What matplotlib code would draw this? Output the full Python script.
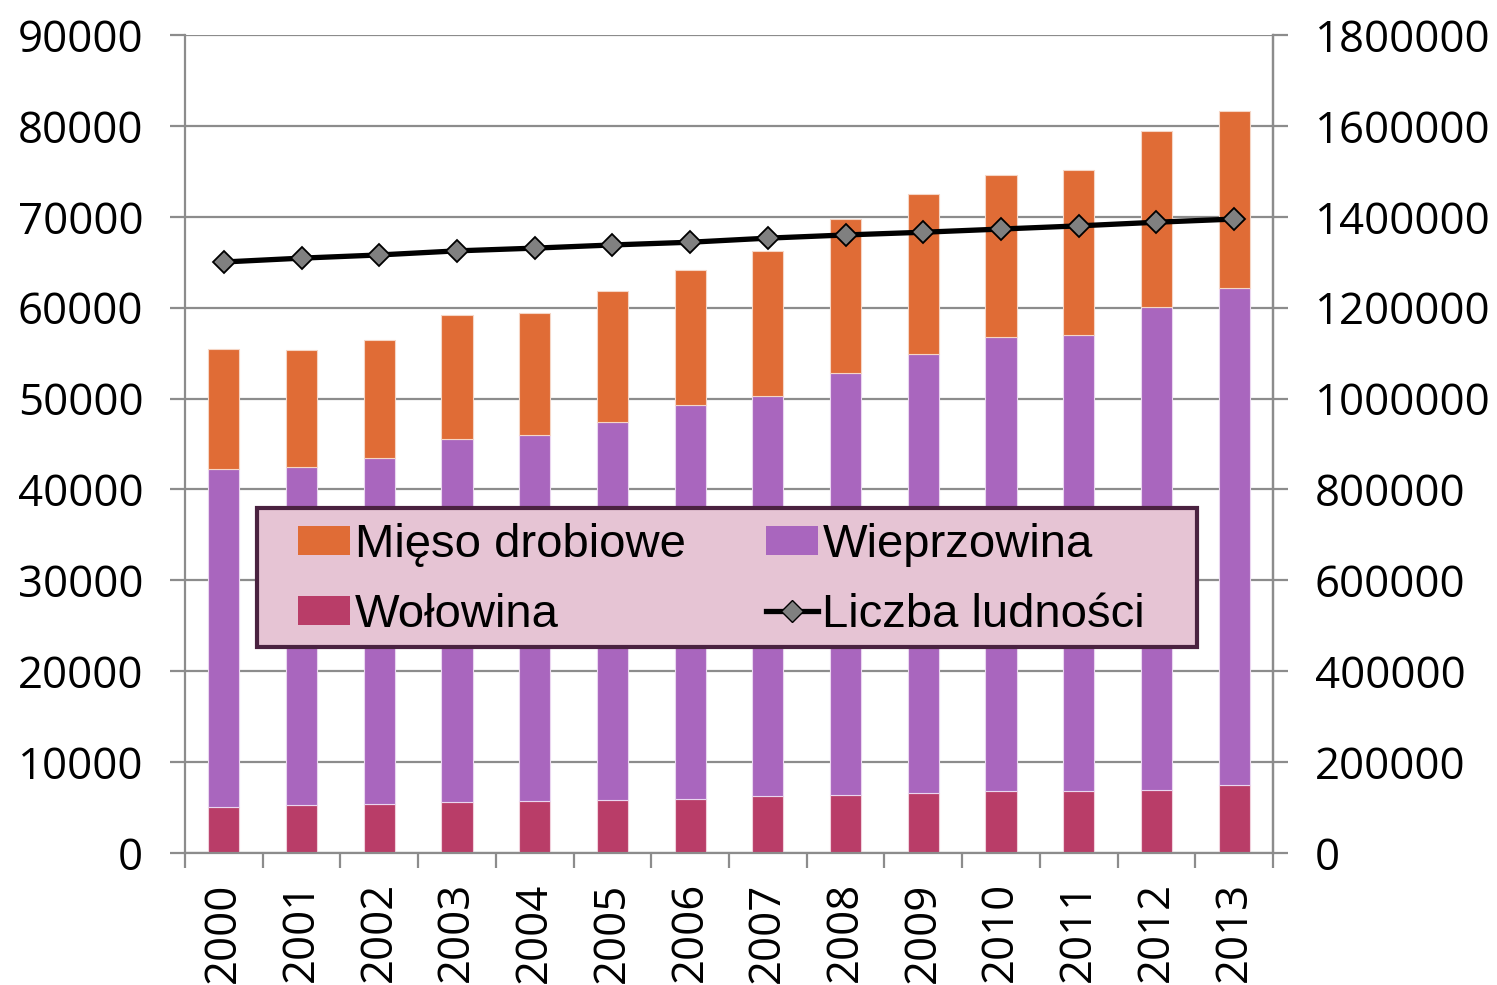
import matplotlib
matplotlib.use("Agg")
import matplotlib.pyplot as plt
import numpy as np
from matplotlib.lines import Line2D
from matplotlib.patches import Patch, Rectangle
from matplotlib.ticker import FuncFormatter

years = ["2000", "2001", "2002", "2003", "2004", "2005", "2006",
         "2007", "2008", "2009", "2010", "2011", "2012", "2013"]
wolowina = [5100, 5300, 5400, 5600, 5700, 5800, 5900, 6300, 6400, 6600, 6800, 6800, 6900, 7500]
wieprzowina_top = [42200, 42500, 43500, 45600, 46000, 47400, 49300, 50300, 52800, 54900, 56800, 57000, 60100, 62200]
total_top = [55500, 55300, 56400, 59200, 59400, 61800, 64100, 66200, 69800, 72500, 74600, 75100, 79400, 81600]
ludnosc = [1300500, 1309000, 1316000, 1325000, 1331000, 1338000, 1344000,
           1353000, 1360000, 1366000, 1373000, 1380000, 1388000, 1395000]

wieprzowina = [p - b for p, b in zip(wieprzowina_top, wolowina)]
drobiowe = [t - p for t, p in zip(total_top, wieprzowina_top)]

tick_font = ["Open Sans", "DejaVu Sans"]
leg_font = ["Liberation Sans", "DejaVu Sans"]
TS = 31.5

c_drob = "#e06c36"
c_wiep = "#a966be"
c_wol = "#b93d68"
grid_c = "#8c8c8c"

W, H = 1497, 985
fig = plt.figure(figsize=(W / 100, H / 100), dpi=100)
ax = fig.add_axes([185 / W, 1 - 853 / H, (1273 - 185) / W, (853 - 35) / H])
x = np.arange(len(years))
w = 0.4
ax.bar(x, wolowina, w, color=c_wol, edgecolor="#f0d0dc", linewidth=0.8, zorder=2)
ax.bar(x, wieprzowina, w, bottom=wolowina, color=c_wiep, edgecolor="#ead6f0", linewidth=0.8, zorder=2)
ax.bar(x, drobiowe, w, bottom=wieprzowina_top, color=c_drob, edgecolor="#f5d6c6", linewidth=0.8, zorder=2)

ax.set_xlim(-0.5, len(years) - 0.5)
ax.set_ylim(0, 90000)
ax.set_yticks(np.arange(0, 90001, 10000))
ax.yaxis.grid(True, color=grid_c, linewidth=1.6, zorder=0)
ax.set_axisbelow(True)
ax.spines["top"].set_visible(False)
for s in ["left", "right", "bottom"]:
    ax.spines[s].set_color(grid_c)
    ax.spines[s].set_linewidth(1.6)

ax.set_xticks(x)
ax.set_xticklabels(years, rotation=90, fontsize=TS, family=tick_font)
ax.set_xticks(np.arange(-0.5, len(years), 1), minor=True)
ax.tick_params(axis="x", which="major", length=0, pad=21)
ax.tick_params(axis="x", which="minor", length=11, width=1.6, color=grid_c)
ax.tick_params(axis="y", length=11, width=1.6, color=grid_c, pad=19, labelsize=TS)
for lab in ax.get_yticklabels():
    lab.set_family(tick_font)

ax2 = ax.twinx()
ax2.set_ylim(0, 1800000)
ax2.set_yticks(np.arange(0, 1800001, 200000))
ax2.yaxis.set_major_formatter(FuncFormatter(lambda v, p: f"{int(round(v))}"))
ax2.tick_params(axis="y", length=11, width=1.6, color=grid_c, pad=19, labelsize=TS)
for lab in ax2.get_yticklabels():
    lab.set_family(tick_font)
for s in ["top", "left", "bottom"]:
    ax2.spines[s].set_visible(False)
ax2.spines["right"].set_color(grid_c)
ax2.spines["right"].set_linewidth(1.6)
ax2.plot(x, ludnosc, color="black", linewidth=3.8, marker="D", markersize=11,
         markerfacecolor="#808080", markeredgecolor="black", markeredgewidth=1.3, zorder=3)

# legend frame
frame = Rectangle((257 / W, 1 - 647 / H), (1197 - 257) / W, (647 - 508) / H,
                  transform=fig.transFigure, facecolor="#e6c4d4", edgecolor="#4a2240",
                  linewidth=3, zorder=4, clip_on=False)
ax2.add_patch(frame)

handles = [Patch(facecolor=c_drob, label="Mięso drobiowe"),
           Patch(facecolor=c_wol, label="Wołowina"),
           Patch(facecolor=c_wiep, label="Wieprzowina"),
           Line2D([0], [0], color="black", linewidth=3.8, marker="D", markersize=11,
                  markerfacecolor="#808080", markeredgecolor="black", label="Liczba ludności")]
leg = ax2.legend(handles=handles, ncol=2, loc="upper left",
                 bbox_to_anchor=(298 / W, 1 - 523 / H), bbox_transform=fig.transFigure,
                 frameon=False, prop={"family": leg_font, "size": 34},
                 handlelength=1.1, handleheight=0.57, handletextpad=0.1,
                 columnspacing=1.7, borderaxespad=0, labelspacing=0.55, borderpad=0)
leg.set_zorder(5)

fig.savefig("out.png", dpi=100)
